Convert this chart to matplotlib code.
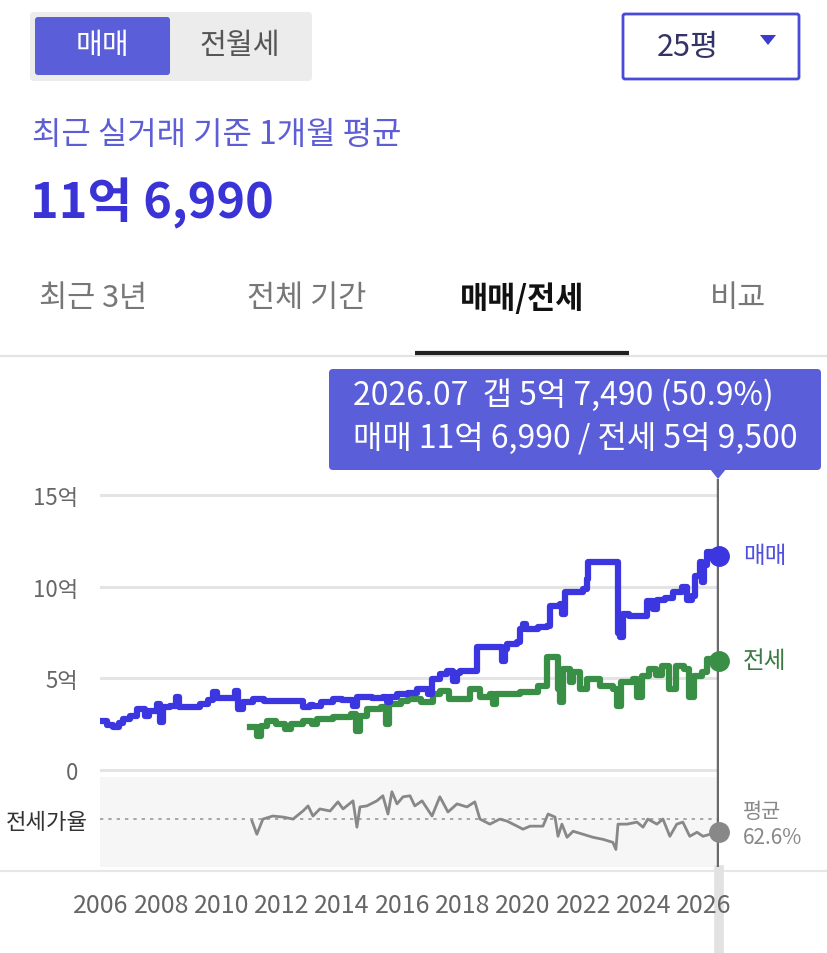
import matplotlib
matplotlib.use("Agg")
import matplotlib.pyplot as plt
from matplotlib.patches import FancyBboxPatch, Polygon

plt.rcParams['font.family'] = ['Noto Sans CJK KR', 'DejaVu Sans']

W, H = 827, 954

# 매매 (sale price, 억) - stepwise monthly average
sale_year = [2005.97, 2006.2, 2006.4, 2006.6, 2006.73, 2006.95, 2007.19, 2007.46, 2007.6, 2007.86,
             2007.96, 2008.05, 2008.29, 2008.5, 2008.6, 2008.95, 2009.28, 2009.55, 2009.71, 2009.85,
             2010.05, 2010.44, 2010.54, 2010.7, 2011.04, 2011.4, 2012.5, 2012.7, 2012.93, 2013.03,
             2013.3, 2013.7, 2014.0, 2014.36, 2014.5, 2015.0, 2015.35, 2015.49, 2015.6, 2015.82,
             2016.2, 2016.48, 2016.85, 2016.98, 2017.24, 2017.48, 2017.67, 2017.8, 2017.91, 2018.47,
             2019.3, 2019.4, 2019.47, 2019.8, 2019.9, 2020.0, 2020.1, 2020.5, 2020.79, 2020.89,
             2021.22, 2021.29, 2021.39, 2021.99, 2022.12, 2022.15, 2023.15, 2023.21, 2023.31, 2023.5,
             2024.11, 2024.31, 2024.44, 2024.7, 2024.97, 2025.27, 2025.44, 2025.6, 2025.7, 2025.87,
             2025.93, 2026.0, 2026.1, 2026.3, 2026.5]
sale_val = [2.67, 2.45, 2.35, 2.55, 2.78, 2.95, 3.33, 2.95, 3.2, 3.6,
            2.6, 3.45, 3.5, 4.0, 3.45, 3.45, 3.6, 3.8, 4.25, 3.95,
            3.9, 4.3, 3.33, 3.7, 3.87, 3.76, 3.76, 3.43, 3.55, 3.5,
            3.7, 3.87, 3.8, 3.5, 4.0, 3.95, 4.0, 3.7, 4.0, 4.15,
            4.2, 4.4, 4.15, 4.96, 5.24, 5.4, 4.86, 5.3, 5.4, 6.7,
            5.95, 6.6, 6.87, 7.0, 7.7, 7.97, 7.7, 7.8, 7.86, 8.95,
            9.05, 8.5, 9.7, 9.87, 10.4, 11.35, 7.5, 7.25, 8.5, 8.4,
            9.2, 8.8, 9.3, 9.4, 9.7, 10.0, 9.3, 9.5, 10.6, 11.35,
            10.25, 11.2, 11.9, 11.6, 11.699]

# 전세 (jeonse deposit, 억)
jeonse_year = [2010.94, 2011.17, 2011.3, 2011.5, 2011.8, 2012.1, 2012.3, 2012.7, 2013.0, 2013.15,
               2013.7, 2014.3, 2014.45, 2014.6, 2014.83, 2015.3, 2015.45, 2015.55, 2015.95, 2016.2,
               2016.6, 2017.0, 2017.24, 2017.55, 2018.24, 2018.57, 2018.9, 2019.0, 2019.1, 2019.9,
               2020.5, 2020.79, 2021.15, 2021.22, 2021.32, 2021.55, 2021.65, 2021.9, 2022.12, 2022.55,
               2022.98, 2023.11, 2023.25, 2023.64, 2023.78, 2023.93, 2024.18, 2024.41, 2024.61, 2024.84,
               2025.07, 2025.34, 2025.5, 2025.67, 2025.93, 2026.1, 2026.5]
jeonse_val = [2.35, 1.85, 2.4, 2.67, 2.5, 2.24, 2.5, 2.67, 2.5, 2.78,
              2.9, 3.05, 2.13, 2.95, 3.33, 3.43, 2.5, 3.6, 3.76, 3.87,
              3.7, 4.15, 4.3, 3.87, 4.4, 4.0, 4.15, 3.6, 4.15, 4.25,
              4.6, 6.15, 4.4, 3.7, 5.5, 4.8, 5.35, 4.4, 4.96, 4.6,
              4.4, 3.5, 4.8, 4.96, 4.0, 5.13, 5.5, 5.2, 5.67, 4.4,
              5.67, 5.5, 4.0, 5.13, 5.35, 6.05, 5.95]

# 전세가율 (%)
ratio_year = [2011.01, 2011.17, 2011.37, 2011.7, 2012.04, 2012.37, 2012.7, 2012.87, 2013.03, 2013.26,
              2013.6, 2013.86, 2014.03, 2014.36, 2014.49, 2014.59, 2014.82, 2015.15, 2015.35, 2015.52,
              2015.65, 2015.82, 2016.02, 2016.25, 2016.41, 2016.65, 2016.98, 2017.24, 2017.51, 2017.81,
              2018.14, 2018.4, 2018.57, 2018.9, 2019.23, 2019.47, 2019.67, 2020.0, 2020.23, 2020.66,
              2020.83, 2021.06, 2021.16, 2021.29, 2021.46, 2021.66, 2021.99, 2022.32, 2022.65, 2022.98,
              2023.08, 2023.15, 2023.45, 2023.78, 2023.98, 2024.14, 2024.44, 2024.64, 2024.87, 2025.1,
              2025.3, 2025.53, 2025.77, 2025.97, 2026.2, 2026.5]
ratio_val = [60.8, 49.1, 62.6, 65.3, 64.4, 62.6, 69.8, 74.3, 65.3, 71.6,
             69.8, 77.9, 71.6, 78.8, 55.4, 73.4, 74.3, 78.8, 83.3, 67.1,
             86.9, 76.1, 82.4, 83.3, 74.3, 78.8, 65.3, 82.4, 68.9, 76.1,
             73.4, 77.9, 62.6, 58.1, 62.6, 60.8, 58.1, 53.6, 56.3, 56.3,
             67.1, 64.4, 47.3, 58.1, 46.4, 51.8, 49.1, 46.4, 44.6, 41.9,
             35.6, 58.1, 58.1, 59.9, 55.4, 62.6, 58.1, 62.6, 47.3, 58.1,
             59.9, 47.3, 50.9, 47.3, 49.1, 50.9]
ratio_avg = 62.6

# current point (만원)
cur_label = "2026.07"
sale_now = 116990
jeonse_now = 59500

year_ticks = list(range(2006, 2027, 2))
price_ticks = [0, 5, 10, 15]
price_labels = ['0', '5억', '10억', '15억']

BLUE = '#3b36e0'
GREEN = '#3a8f47'
ACCENT = '#5a5ed8'


def fmt(v):
    eok, man = divmod(v, 10000)
    return f"{eok}억 {man:,}" if eok else f"{man:,}"


def rect(l, t, r, b):
    return [l / W, 1 - b / H, (r - l) / W, (b - t) / H]


fig = plt.figure(figsize=(W / 100, H / 100), dpi=100)

# overlay in pixel coordinates for the page furniture
ov = fig.add_axes([0, 0, 1, 1], zorder=0)
ov.set_xlim(0, W)
ov.set_ylim(H, 0)
ov.axis('off')

ov.add_patch(FancyBboxPatch((30, 13), 282, 69, boxstyle="round,pad=0,rounding_size=4",
                            fc='#ececec', ec='none'))
ov.add_patch(FancyBboxPatch((35, 18), 135, 58, boxstyle="round,pad=0,rounding_size=3",
                            fc=ACCENT, ec='none'))
ov.text(102, 46, "매매", color='white', fontsize=21, ha='center', va='center')
ov.text(240, 46, "전월세", color='#555555', fontsize=21, ha='center', va='center')

ov.add_patch(FancyBboxPatch((623, 15), 176, 65, boxstyle="round,pad=0,rounding_size=2",
                            fc='white', ec='#4a4ad8', lw=2))
ov.text(688, 47, "25평", color='#333366', fontsize=22, ha='center', va='center')
ov.add_patch(Polygon([[760, 36], [776, 36], [768, 46]], closed=True, fc='#3b3bcf', ec='none'))

ov.text(32, 135, "최근 실거래 기준 1개월 평균", color='#5d5dd6', fontsize=23, ha='left', va='center')
ov.text(30, 203, fmt(sale_now), color='#3a33d6', fontsize=35, fontweight='bold',
        ha='left', va='center')

for cx, lab in zip([93, 307, 522, 738], ["최근 3년", "전체 기간", "매매/전세", "비교"]):
    active = lab == "매매/전세"
    ov.text(cx, 299, lab, fontsize=22, ha='center', va='center',
            color='#111111' if active else '#777777', fontweight='bold' if active else 'normal')
ov.plot([0, W], [357, 357], color='#e3e3e3', lw=1.5)
ov.plot([415, 629], [354, 354], color='#222222', lw=3, solid_capstyle='butt')
ov.plot([0, W], [872, 872], color='#e6e6e6', lw=1.5)

# tooltip
gap = sale_now - jeonse_now
ov.add_patch(FancyBboxPatch((329, 370), 492, 101, boxstyle="round,pad=0,rounding_size=4",
                            fc=ACCENT, ec='none'))
ov.add_patch(Polygon([[710, 470], [726, 470], [718, 480]], closed=True, fc=ACCENT, ec='none'))
ov.text(353, 395, f"{cur_label}  갭 {fmt(gap)} ({jeonse_now / sale_now * 100:.1f}%)",
        color='white', fontsize=23, ha='left', va='center')
ov.text(353, 438, f"매매 {fmt(sale_now)} / 전세 {fmt(jeonse_now)}",
        color='white', fontsize=23, ha='left', va='center')

# price chart
ax = fig.add_axes(rect(100, 480, 719, 778), zorder=2)
ax.set_xlim(2005.967, 2026.5)
ax.set_ylim(-7 / 18.33, 15 + 16 / 18.33)
ax.patch.set_alpha(0)
for s in ax.spines.values():
    s.set_visible(False)
ax.set_yticks(price_ticks, price_labels)
ax.set_xticks([])
ax.tick_params(axis='y', length=0, pad=16, labelsize=16, labelcolor='#666666')
ax.grid(axis='y', color='#e4e4e4', lw=2.2)
ax.set_axisbelow(True)

ax.plot(sale_year, sale_val, drawstyle='steps-post', color=BLUE, lw=4.5, zorder=4)
ax.plot(jeonse_year, jeonse_val, drawstyle='steps-post', color=GREEN, lw=4.5, zorder=3)
ax.axvline(sale_year[-1], color='#6a6a6a', lw=3.2, zorder=2)
ax.plot(sale_year[-1], sale_now / 10000, 'o', ms=14, color=BLUE, clip_on=False, zorder=5)
ax.plot(jeonse_year[-1], jeonse_now / 10000, 'o', ms=14, color=GREEN, clip_on=False, zorder=5)
ax.annotate("매매", (sale_year[-1], sale_now / 10000), xytext=(17, 0), textcoords='offset points',
            color='#5050dd', fontsize=17, va='center', annotation_clip=False)
ax.annotate("전세", (jeonse_year[-1], jeonse_now / 10000), xytext=(17, 0), textcoords='offset points',
            color='#3a7a42', fontsize=17, va='center', annotation_clip=False)

# jeonse ratio panel
ax2 = fig.add_axes(rect(100, 778, 719, 868), zorder=1)
ax2.set_xlim(2005.967, 2026.5)
ax2.set_ylim(20, 100)
ax2.set_facecolor('#f6f6f6')
for s in ax2.spines.values():
    s.set_visible(False)
ax2.axhline(ratio_avg, color='#999999', lw=1.2, ls=(0, (2, 3)))
ax2.plot(ratio_year, ratio_val, color='#888888', lw=2)
ax2.axvline(ratio_year[-1], color='#6a6a6a', lw=3.2)
ax2.axvline(ratio_year[-1], ymin=-1.0, ymax=-0.03, color='#e2e2e2', lw=7, clip_on=False, zorder=0)
ax2.plot(ratio_year[-1], ratio_val[-1], 'o', ms=14, color='#888888', clip_on=False, zorder=5)
ax2.set_yticks([ratio_avg], ['전세가율'])
ax2.set_xticks(year_ticks, [str(y) for y in year_ticks])
ax2.tick_params(axis='y', length=0, pad=9, labelsize=16, labelcolor='#333333')
ax2.tick_params(axis='x', length=0, pad=18, labelsize=18, labelcolor='#666666')
ax2.annotate("평균", (ratio_year[-1], ratio_avg), xytext=(17, 6), textcoords='offset points',
             color='#888888', fontsize=15, va='center', annotation_clip=False)
ax2.annotate(f"{ratio_avg}%", (ratio_year[-1], ratio_avg), xytext=(17, -13), textcoords='offset points',
             color='#888888', fontsize=15, va='center', annotation_clip=False)

fig.savefig("out.png", dpi=100)
